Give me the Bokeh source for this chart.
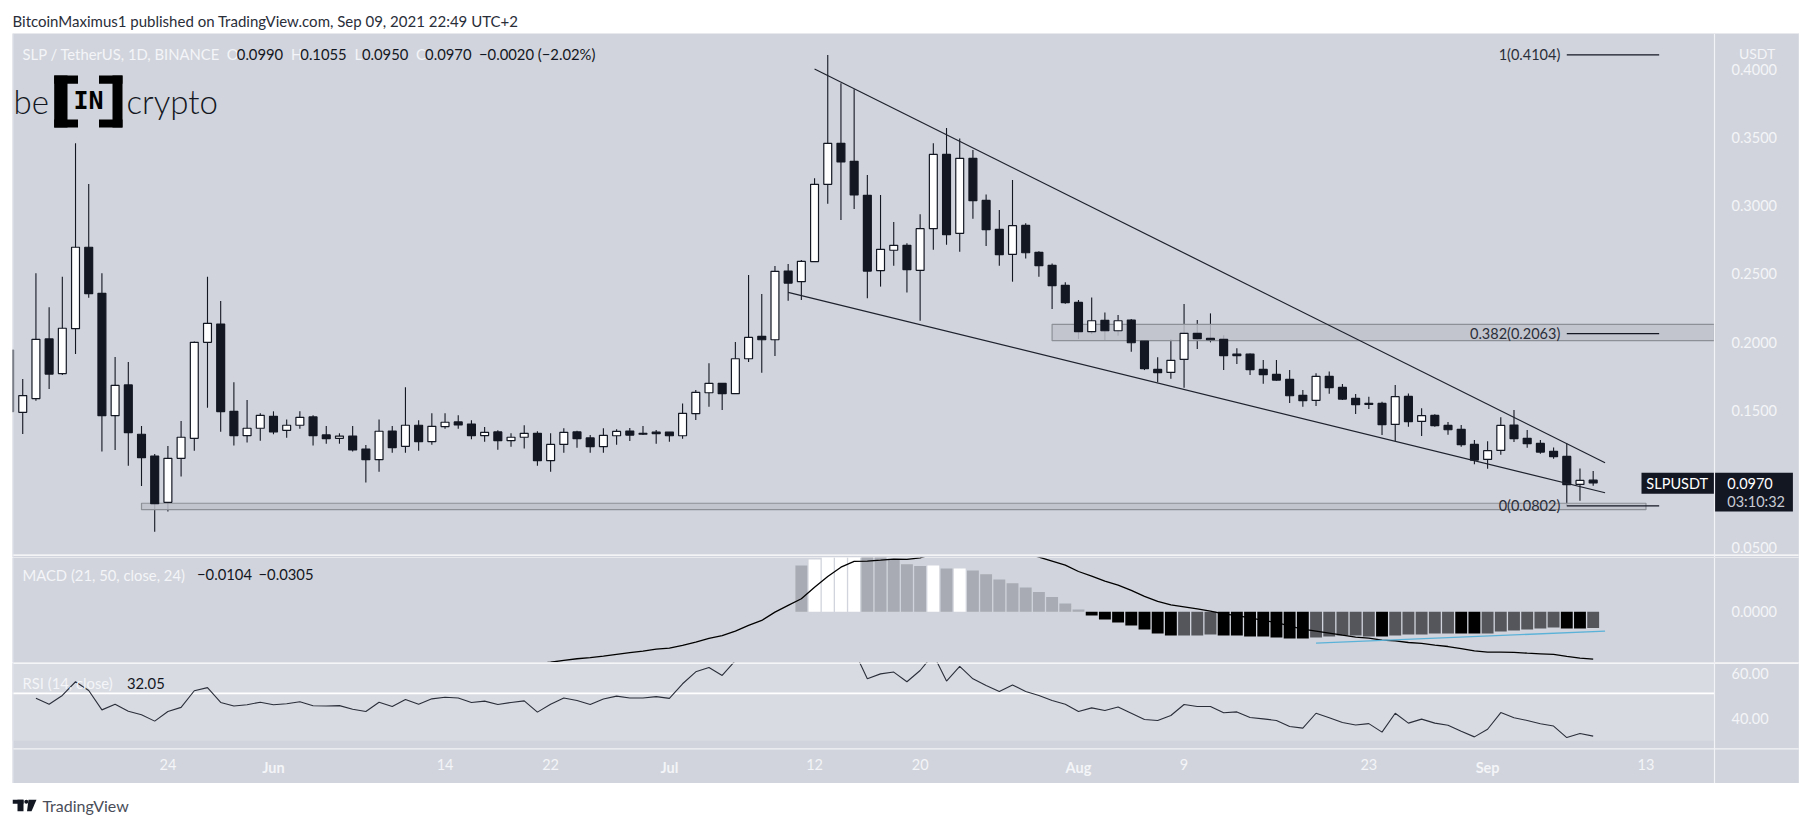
from bokeh.plotting import figure
from bokeh.layouts import column
from bokeh.models import Range1d, LinearAxis, FixedTicker, NumeralTickFormatter, Span
from bokeh.core.properties import value
from bokeh.embed import file_html
from bokeh.resources import INLINE

# ---------- data ----------
first_day = -12  # days after May 24
opens = [.1492,.1487,.1587,.2024,.1770,.2099,.2695,.2358,.1462,.1687,.1326,.1167,.0828,.1150,.1296,.1999,.2133,
 .1494,.1316,.1370,.1457,.1355,.1392,.1453,.1321,.1296,.1313,.1218,.1140,.1350,.1238,.1392,.1272,.1382,.1416,.1401,
 .1316,.1343,.1279,.1304,.1333,.1133,.1252,.1343,.1299,.1235,.1315,.1350,.1332,.1342,.1342,.1315,.1477,.1630,.1699,
 .1623,.1879,.2043,.2018,.2521,.2443,.2590,.3156,.3456,.3324,.3075,.2524,.2673,.2709,.2526,.2831,.3375,.2797,.3346,
 .3038,.2826,.2643,.2855,.2658,.2563,.2416,.2291,.2077,.2160,.2084,.2162,.2008,.1801,.1779,.1874,.2065,.2028,.2021,
 .1913,.1913,.1801,.1764,.1728,.1611,.1574,.1750,.1669,.1589,.1552,.1552,.1398,.1603,.1420,.1464,.1391,.1362,.1252,
 .1142,.1208,.1394,.1296,.1259,.1201,.1164,.0959,.0990]
highs = [.1943,.1731,.2504,.2255,.2480,.3456,.3158,.2504,.1892,.1855,.1387,.1182,.1240,.1423,.2005,.2480,.2302,
 .1706,.1577,.1479,.1494,.1435,.1494,.1465,.1387,.1333,.1387,.1248,.1435,.1387,.1670,.1428,.1479,.1479,.1465,.1428,
 .1379,.1355,.1333,.1392,.1348,.1333,.1370,.1352,.1321,.1370,.1362,.1372,.1386,.1357,.1342,.1552,.1650,.1845,.1699,
 .2001,.2492,.2353,.2558,.2572,.2602,.3200,.4102,.3895,.3851,.3224,.3078,.2880,.2724,.2936,.3456,.3568,.3492,.3407,
 .3082,.2968,.3187,.2870,.2665,.2577,.2438,.2309,.2328,.2218,.2199,.2170,.2016,.1889,.2021,.2279,.2162,.2211,.2050,
 .1955,.1918,.1869,.1869,.1796,.1650,.1772,.1786,.1694,.1621,.1601,.1564,.1686,.1625,.1516,.1472,.1416,.1394,.1284,
 .1274,.1450,.1503,.1357,.1284,.1230,.1259,.1076,.1057]
lows = [.1492,.1328,.1572,.1658,.1760,.1914,.2326,.1199,.1211,.1096,.0947,.0613,.0760,.1016,.1206,.1521,.1345,
 .1243,.1265,.1279,.1326,.1301,.1367,.1243,.1257,.1257,.1199,.0972,.1052,.1191,.1191,.1206,.1250,.1367,.1367,.1289,
 .1272,.1213,.1235,.1221,.1096,.1052,.1191,.1228,.1191,.1191,.1250,.1276,.1320,.1257,.1272,.1294,.1430,.1528,.1503,
 .1623,.1855,.1777,.1899,.2304,.2309,.2590,.3014,.2895,.2975,.2321,.2407,.2560,.2363,.2157,.2677,.2714,.2663,.2904,
 .2704,.2560,.2443,.2612,.2480,.2243,.2282,.2023,.2060,.2016,.2048,.1930,.1796,.1706,.1733,.1667,.1950,.1999,.1796,
 .1840,.1760,.1696,.1718,.1555,.1528,.1533,.1623,.1577,.1474,.1511,.1320,.1276,.1381,.1313,.1381,.1323,.1235,.1106,
 .1074,.1176,.1269,.1228,.1184,.1147,.0803,.0840,.0950]
closes = [.1943,.1609,.2021,.1767,.2102,.2695,.2355,.1462,.1684,.1338,.1155,.0818,.1150,.1304,.1999,.2138,.1492,
 .1316,.1370,.1465,.1343,.1392,.1450,.1316,.1294,.1313,.1211,.1140,.1348,.1228,.1392,.1272,.1384,.1414,.1394,.1316,
 .1340,.1279,.1304,.1333,.1133,.1252,.1340,.1294,.1235,.1318,.1347,.1320,.1327,.1330,.1315,.1479,.1633,.1699,.1623,
 .1879,.2035,.2018,.2519,.2433,.2592,.3156,.3456,.3319,.3078,.2521,.2680,.2709,.2531,.2831,.3375,.2787,.3346,.3036,
 .2824,.2641,.2853,.2655,.2560,.2414,.2289,.2077,.2157,.2084,.2157,.1996,.1806,.1777,.1867,.2065,.2026,.2018,.1901,
 .1901,.1799,.1762,.1723,.1608,.1572,.1750,.1667,.1584,.1543,.1545,.1396,.1601,.1418,.1462,.1389,.1359,.1250,.1137,
 .1206,.1391,.1294,.1257,.1196,.1162,.0957,.0988,.0970]

upper_trend_days = [49, 108.9]
upper_trend_prices = [.4000, .1118]
lower_trend_days = [47, 108.9]
lower_trend_prices = [.2365, .0898]

zone_left = [67, -2]
zone_right = [117.19, 112]
zone_top = [.2131, .0821]
zone_bottom = [.2011, .0774]

fib_levels = ["1", "0.382", "0"]
fib_prices = [.4104, .2063, .0802]
fib_start = 106
fib_end = 113

price_ticks = [.40, .35, .30, .25, .20, .15, .05]

hist_first_day = 48
hist_values = [.0299,.0338,.0385,.0395,.0385,.0363,.0357,.0338,.0307,.0295,.0299,.0280,.0280,.0267,.0243,.0209,.0185,
 .0157,.0127,.0095,.0054,.0015,-.0024,-.0049,-.0069,-.0088,-.0114,-.0140,-.0153,-.0153,-.0153,-.0146,-.0153,-.0153,
 -.0159,-.0159,-.0166,-.0172,-.0172,-.0166,-.0159,-.0153,-.0153,-.0159,-.0159,-.0153,-.0146,-.0146,-.0140,-.0140,
 -.0140,-.0140,-.0140,-.0127,-.0120,-.0114,-.0108,-.0101,-.0108,-.0108,-.0104]
hist_kinds = ("G W W W W G G G G G W G W G G G G G G G G G "
              "K K K K K K K D D D K K K K K K K D D D D D K D D D D D K K D D D D D D K K D").split()

macd_first_day = 28
macd_values = [-.0335,-.0325,-.0314,-.0303,-.0295,-.0286,-.0275,-.0264,-.0254,-.0241,-.0234,-.0217,-.0196,-.0172,
 -.0153,-.0125,-.0088,-.0056,-.0002,.0041,.0084,.0159,.0228,.0288,.0325,.0327,.0333,.0340,.0338,.0348,.0374,.0406,
 .0428,.0449,.0454,.0439,.0406,.0378,.0353,.0327,.0301,.0260,.0230,.0198,.0172,.0138,.0099,.0067,.0045,.0032,.0019,
 .0004,-.0013,-.0024,-.0039,-.0056,-.0069,-.0092,-.0112,-.0125,-.0138,-.0151,-.0163,-.0170,-.0183,-.0187,-.0198,
 -.0204,-.0215,-.0224,-.0237,-.0252,-.0260,-.0260,-.0262,-.0267,-.0271,-.0275,-.0288,-.0299,-.0305]
macd_trend_days = [87, 108.9]
macd_trend_values = [-.0202, -.0125]

rsi_first_day = -10
rsi_values = [48.9,46.2,50.1,56.2,52.3,43.7,46.2,43.1,41.5,38.7,43.0,44.8,52.2,53.6,47.0,45.4,46.0,47.1,46.0,46.4,47.3,
 45.5,45.4,45.6,44.0,43.0,47.1,45.2,48.3,46.2,48.6,49.3,49.0,47.0,47.6,46.1,47.0,47.7,42.7,46.2,49.0,47.9,46.1,48.5,
 49.8,49.0,49.0,49.6,48.8,55.3,60.6,62.5,59.0,65.6,70.0,68.0,72.0,71.0,72.0,78.0,80.0,78.0,70.0,57.5,59.7,60.5,56.2,
 61.2,68.3,56.5,63.0,57.5,54.5,51.9,54.8,51.9,50.1,47.9,46.2,43.0,44.6,43.4,45.0,42.2,39.4,39.0,41.2,46.1,45.2,45.2,
 42.4,42.8,40.3,39.7,39.0,36.3,35.6,42.2,40.2,38.1,37.0,37.6,33.8,42.2,37.8,39.6,37.8,36.9,34.2,31.7,35.1,42.5,40.2,
 39.0,37.5,36.5,31.4,33.2,32.05]
rsi_ticks = [60, 40]
rsi_band = [30, 70]
rsi_level = 51

day_ticks = [0, 21, 29, 49, 57, 77, 91, 112]
day_labels = ["24", "14", "22", "12", "20", "9", "23", "13"]
month_ticks = [8, 38, 69, 100]
month_labels = ["Jun", "Jul", "Aug", "Sep"]

# ---------- layout and styles ----------
FONT = "Lato"
PANEL = "#d1d4dc"
DARK = "#131722"
LIGHT = "#f4f5f8"
LEFT_PX, RIGHT_PX = 13, 1800
SEP_PX = 1715
W = RIGHT_PX - LEFT_PX

def X(px):
    return (px - 168.4) / 13.197
def PY(px):
    return 0.4 - (px - 68.5) / 1366
def MY(px):
    return (611.3 - px) / 1550
def RY(px):
    return 60 - (px - 672.7) / 2.25

xr = Range1d(X(LEFT_PX), X(RIGHT_PX))

def make(height, yr, bg=PANEL, x_range=None, top=0):
    f = figure(width=W, height=height, x_range=x_range or xr, y_range=yr,
               toolbar_location=None, output_backend="svg", min_border=0,
               x_axis_location=None, y_axis_location=None,
               margin=(top, 0, 0, LEFT_PX - 1))
    f.grid.visible = False
    f.background_fill_color = bg
    f.border_fill_color = "white"
    f.outline_line_color = None
    return f

def txt(f, x, y, s, color=DARK, size=14, align="left", weight="normal", font=FONT):
    f.text([x], [y], text=[s], text_color=color, text_font_size=f"{size}px",
           text_font=value(font), text_align=align, text_baseline="middle",
           text_font_style=weight)

def vaxis(f, ticks, fmt):
    ax = LinearAxis(fixed_location=X(SEP_PX), ticker=FixedTicker(ticks=ticks),
                    formatter=NumeralTickFormatter(format=fmt))
    ax.axis_line_color = None
    ax.major_tick_line_color = None
    ax.minor_tick_line_color = None
    ax.major_label_text_color = LIGHT
    ax.major_label_text_font = FONT
    ax.major_label_text_font_size = "14.5px"
    ax.major_label_standoff = 11
    f.add_layout(ax, "right")

def frame_lines(f):
    f.add_layout(Span(location=X(SEP_PX), dimension="height", line_color="#f2f3f6", line_width=1.2))
    f.add_layout(Span(location=X(LEFT_PX + .5), dimension="height", line_color="#e0e3eb", line_width=1))
    f.add_layout(Span(location=X(RIGHT_PX - .5), dimension="height", line_color="#e0e3eb", line_width=1))

# ---------- header ----------
header = make(25, Range1d(33, 8), bg="white", x_range=Range1d(LEFT_PX, RIGHT_PX), top=8)
txt(header, 13, 20, "BitcoinMaximus1 published on TradingView.com, Sep 09, 2021 22:49 UTC+2", color="#2a2e39", size=15)

# ---------- price pane (runs a little past the white pane line so 0.0500 keeps its room) ----------
p = make(524, Range1d(PY(557), PY(33)))
n = len(opens)
days = [first_day + i for i in range(n)]
p.segment(days, highs, days, lows, line_color=DARK, line_width=1.1)
up = [i for i in range(n) if closes[i] >= opens[i]]
dn = [i for i in range(n) if closes[i] < opens[i]]

p.quad(left=zone_left, right=zone_right, top=zone_top, bottom=zone_bottom,
       fill_color="#bfc2cb", fill_alpha=0.85, line_color="#8d9097", line_width=1.2)

p.vbar([days[i] for i in up], 0.6, [opens[i] for i in up], [closes[i] for i in up],
       fill_color="white", line_color=DARK, line_width=1.2)
p.vbar([days[i] for i in dn], 0.6, [closes[i] for i in dn], [opens[i] for i in dn],
       fill_color=DARK, line_color=DARK, line_width=1.2)

p.line(upper_trend_days, upper_trend_prices, line_color="#1e222d", line_width=1.2)
p.line(lower_trend_days, lower_trend_prices, line_color="#1e222d", line_width=1.2)

for lvl, pr in zip(fib_levels, fib_prices):
    p.line([fib_start, fib_end], [pr, pr], line_color="#131722", line_width=1.3)
    txt(p, X(1560.8), pr, f"{lvl}({pr:.4f})", color="#2a2e39", size=14.5, align="right")

p.add_layout(Span(location=PY(554.6), dimension="width", line_color="white", line_width=1.2))
frame_lines(p)
vaxis(p, price_ticks, "0.0000")
txt(p, X(1757.6), PY(52.5), "USDT", color=LIGHT, size=14, align="center")

# legend row
txt(p, X(23), PY(53.7), "SLP / TetherUS, 1D, BINANCE", color=LIGHT, size=14.8)
for lx, letter, vx, val in [(227.3, "O", 237.3, "0.0990"), (291.6, "H", 300.8, "0.1055"),
                            (355, "L", 362.4, "0.0950"), (416.4, "C", 425.6, "0.0970")]:
    txt(p, X(lx), PY(53.7), letter, color=LIGHT, size=14.8)
    txt(p, X(vx), PY(53.7), val, color=DARK, size=14.8)
txt(p, X(479.5), PY(53.7), "\u22120.0020 (\u22122.02%)", color=DARK, size=14.8)

# be[IN]crypto logo
txt(p, X(14), PY(100), "be", color="#131722", size=33, font="Lato Light, Lato")
txt(p, X(127), PY(100), "crypto", color="#131722", size=33, font="Lato Light, Lato")
p.quad(left=[X(54.7), X(54.7), X(54.7), X(113), X(99.5), X(99.5)],
       right=[X(68), X(78.5), X(78.5), X(123), X(123), X(123)],
       top=[PY(75), PY(75), PY(119), PY(75), PY(75), PY(119)],
       bottom=[PY(127), PY(83.3), PY(127), PY(127), PY(83.3), PY(127)],
       fill_color="#000000", line_color=None)
txt(p, X(89), PY(100), "IN", color="#000000", size=25, align="center", weight="bold", font="DejaVu Sans Mono")

# last price tag
p.quad(left=[X(1642), X(SEP_PX)], right=[X(SEP_PX), X(1793.4)],
       top=[PY(472.3), PY(472.3)], bottom=[PY(493.3), PY(511)],
       fill_color=DARK, line_color=None)
txt(p, X(1677.7), PY(482.7), "SLPUSDT", color="white", size=14.5, align="center")
txt(p, X(1727.8), PY(482.7), "0.0970", color="white", size=14.5)
txt(p, X(1727.8), PY(500.7), "03:10:32", color="#c9ccd4", size=14.5)

# ---------- MACD pane ----------
m = make(105, Range1d(MY(662), MY(557)))
kind_colors = {"W": "#ffffff", "G": "#a8abb3", "K": "#000000", "D": "#55565c"}
hist_days = [hist_first_day + i for i in range(len(hist_values))]
m.vbar(hist_days, 0.9, 0, hist_values, fill_color=[kind_colors[k] for k in hist_kinds], line_color=None)
m.line([macd_first_day + i for i in range(len(macd_values))], macd_values, line_color="#000000", line_width=1.3)
m.line(macd_trend_days, macd_trend_values, line_color="#5bb2d8", line_width=1.3)
frame_lines(m)
vaxis(m, [0], "0.0000")
txt(m, X(23), MY(574), "MACD (21, 50, close, 24)", color=LIGHT, size=14.8)
txt(m, X(197.5), MY(574), "\u22120.0104", color=DARK, size=14.8)
txt(m, X(259), MY(574), "\u22120.0305", color=DARK, size=14.8)

# ---------- RSI pane and time scale ----------
r = make(121, Range1d(RY(783), RY(662)))
r.quad(left=[X(LEFT_PX)], right=[X(SEP_PX)], bottom=[rsi_band[0]], top=[rsi_band[1]],
       fill_color="#d8dbe2", line_color=None)
r.line([X(LEFT_PX), X(SEP_PX)], [rsi_level, rsi_level], line_color="white", line_width=1.8)
r.line([rsi_first_day + i for i in range(len(rsi_values))], rsi_values, line_color="#2a2e39", line_width=1.1)
r.add_layout(Span(location=RY(662.6), dimension="width", line_color="white", line_width=1.2))
r.add_layout(Span(location=RY(748.3), dimension="width", line_color="#f2f3f6", line_width=1.2))
frame_lines(r)
vaxis(r, rsi_ticks, "0.00")

def xaxis(ticks, labels, style):
    ax = LinearAxis(fixed_location=RY(748.3), ticker=FixedTicker(ticks=ticks),
                    major_label_overrides=dict(zip(ticks, labels)))
    ax.axis_line_color = None
    ax.major_tick_line_color = None
    ax.minor_tick_line_color = None
    ax.major_label_text_color = LIGHT
    ax.major_label_text_font = FONT
    ax.major_label_text_font_size = "14.5px"
    ax.major_label_text_font_style = style
    ax.major_label_standoff = 4
    r.add_layout(ax, "below")
xaxis(day_ticks, day_labels, "normal")
xaxis(month_ticks, month_labels, "bold")

txt(r, X(23), RY(682.7), "RSI (14, close)", color=LIGHT, size=14.8)
txt(r, X(127.4), RY(682.7), "32.05", color=DARK, size=14.8)

# ---------- footer ----------
footer = make(36, Range1d(819, 783), bg="white", x_range=Range1d(LEFT_PX, RIGHT_PX))
footer.quad(left=[13, 18], right=[24, 24], top=[799.3, 799.3], bottom=[803.2, 810.7],
            fill_color="#131722", line_color=None)
footer.patch([29, 37, 32, 27.5], [799.3, 799.3, 810.7, 810.7], fill_color="#131722", line_color=None)
footer.scatter([26.8], [801.2], size=4, fill_color="#131722", line_color=None)
txt(footer, 42.9, 804.7, "TradingView", color="#4a4e59", size=16)

page = column(header, p, m, r, footer, spacing=0)
open("out.html", "w").write(file_html(page, INLINE))
